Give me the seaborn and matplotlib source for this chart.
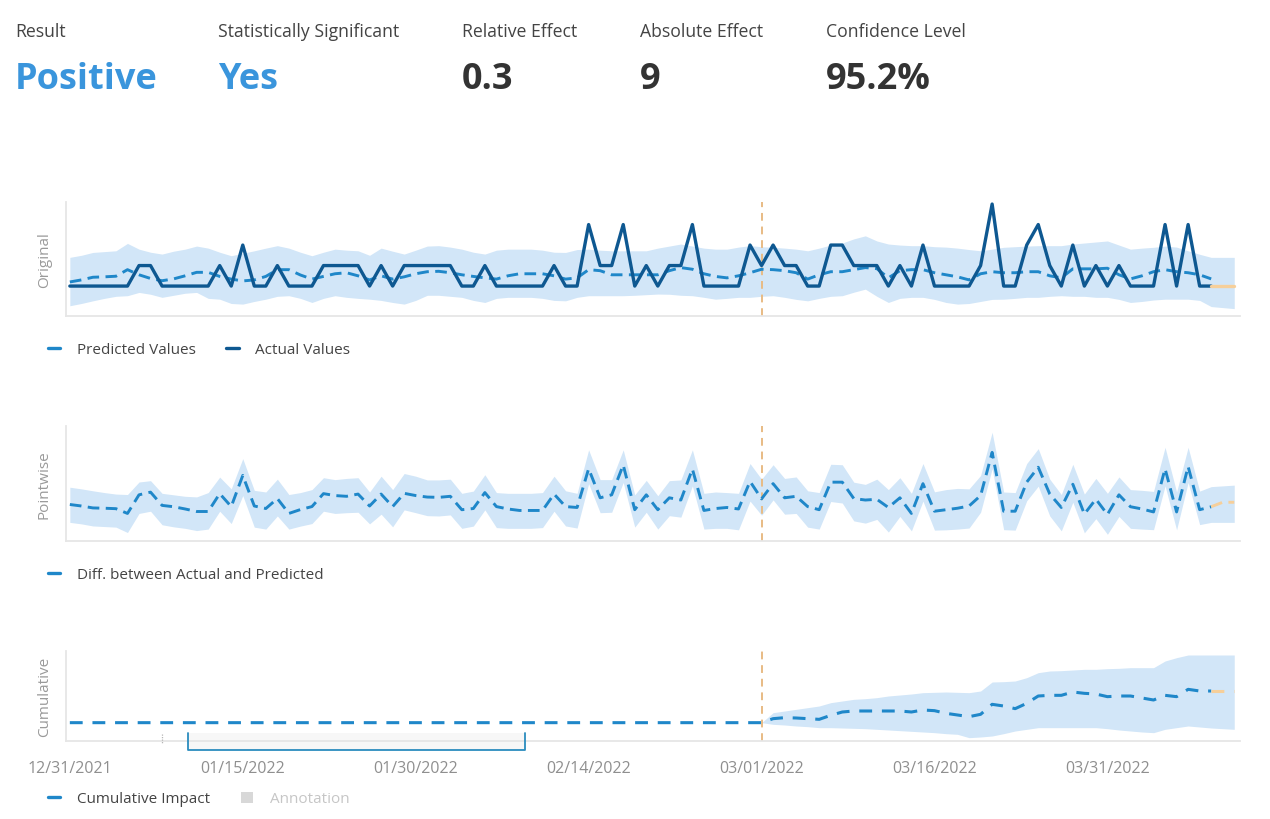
import pandas as pd
import numpy as np
import matplotlib
matplotlib.use("Agg")
import matplotlib.pyplot as plt
import matplotlib.dates as mdates
import matplotlib.transforms as mtransforms
from matplotlib.lines import Line2D
from matplotlib.patches import Patch, Rectangle
import seaborn as sns

sns.set_style("white")
plt.rcParams["font.family"] = ["Open Sans", "DejaVu Sans"]

# ---- data ----
start = "2021-12-31"
intervention = pd.Timestamp("2022-03-01")
n_full = 100  # last day with complete data (later days are the faded tail)

summary_labels = ["Result", "Statistically Significant", "Relative Effect", "Absolute Effect", "Confidence Level"]
summary_values = ["Positive", "Yes", "0.3", "9", "95.2%"]

actual = [0, 0, 0, 0, 0, 0, 1, 1, 0, 0,
          0, 0, 0, 1, 0, 2, 0, 0, 1, 0,
          0, 0, 1, 1, 1, 1, 0, 1, 0, 1,
          1, 1, 1, 1, 0, 0, 1, 0, 0, 0,
          0, 0, 1, 0, 0, 3, 1, 1, 3, 0,
          1, 0, 1, 1, 3, 0, 0, 0, 0, 2,
          1, 2, 1, 1, 0, 0, 2, 2, 1, 1,
          1, 0, 1, 0, 2, 0, 0, 0, 0, 1,
          4, 0, 0, 2, 3, 1, 0, 2, 0, 1,
          0, 1, 0, 0, 0, 3, 0, 3, 0, 0,
          0, 0]

predicted = [0.2, 0.3, 0.43, 0.45, 0.48, 0.8, 0.55, 0.37, 0.26, 0.35,
             0.5, 0.67, 0.67, 0.47, 0.34, 0.25, 0.3, 0.47, 0.8, 0.8,
             0.54, 0.34, 0.47, 0.6, 0.65, 0.5, 0.3, 0.5, 0.34, 0.45,
             0.6, 0.7, 0.72, 0.65, 0.55, 0.47, 0.4, 0.34, 0.5, 0.6,
             0.6, 0.6, 0.5, 0.34, 0.4, 0.8, 0.75, 0.55, 0.55, 0.55,
             0.55, 0.55, 0.75, 0.9, 0.82, 0.6, 0.47, 0.4, 0.5, 0.65,
             0.82, 0.8, 0.75, 0.65, 0.34, 0.55, 0.7, 0.7, 0.8, 0.9,
             0.85, 0.4, 0.75, 0.8, 0.8, 0.65, 0.55, 0.45, 0.3, 0.6,
             0.7, 0.65, 0.65, 0.7, 0.7, 0.5, 0.4, 0.84, 0.84, 0.84,
             0.87, 0.55, 0.35, 0.5, 0.7, 0.8, 0.7, 0.65, 0.55, 0.35,
             0.05, 0.05]

pred_upper = [1.40, 1.5, 1.64, 1.68, 1.72, 2.08, 1.8, 1.65, 1.56, 1.7,
              1.8, 1.95, 1.85, 1.65, 1.48, 1.6, 1.72, 1.85, 1.97, 1.85,
              1.65, 1.48, 1.65, 1.8, 1.75, 1.72, 1.5, 1.85, 1.7, 1.56,
              1.75, 1.95, 1.97, 1.9, 1.8, 1.65, 1.56, 1.75, 1.8, 1.8,
              1.8, 1.75, 1.65, 1.64, 1.78, 1.8, 1.75, 1.72, 1.72, 1.72,
              1.72, 1.85, 1.95, 2.05, 1.95, 1.85, 1.8, 1.8, 1.9, 1.97,
              1.92, 1.89, 1.85, 1.8, 1.72, 1.85, 2.0, 2.1, 2.3, 2.45,
              2.2, 2.05, 2.0, 1.97, 1.97, 1.92, 1.9, 1.85, 1.78, 1.72,
              1.8, 1.89, 1.92, 1.95, 1.97, 1.97, 1.97, 2.05, 2.1, 2.15,
              2.2, 2.0, 1.8, 1.85, 1.89, 1.95, 1.9, 1.72, 1.55, 1.4,
              1.4, 1.4]

pred_lower = [-0.96, -0.85, -0.72, -0.6, -0.5, -0.47, -0.31, -0.4, -0.55, -0.45,
              -0.35, -0.31, -0.6, -0.64, -0.85, -0.88, -0.75, -0.64, -0.5, -0.47,
              -0.6, -0.8, -0.6, -0.47, -0.55, -0.6, -0.64, -0.7, -0.8, -0.88,
              -0.7, -0.45, -0.45, -0.5, -0.55, -0.7, -0.8, -0.6, -0.55, -0.55,
              -0.55, -0.6, -0.7, -0.72, -0.55, -0.47, -0.47, -0.47, -0.47, -0.45,
              -0.42, -0.39, -0.4, -0.45, -0.47, -0.55, -0.64, -0.6, -0.55, -0.55,
              -0.5, -0.47, -0.55, -0.65, -0.72, -0.6, -0.5, -0.47, -0.3, -0.15,
              -0.5, -0.8, -0.6, -0.55, -0.55, -0.65, -0.8, -0.88, -0.85, -0.75,
              -0.65, -0.64, -0.6, -0.55, -0.55, -0.5, -0.47, -0.5, -0.5, -0.55,
              -0.55, -0.65, -0.8, -0.75, -0.68, -0.64, -0.64, -0.64, -0.7, -1.0,
              -1.05, -1.1]

# cumulative impact from the intervention day (03/01) on; zero before it
cum_post = [0, 1.2, 1.5, 1.4, 1.2, 1.0, 2.2, 3.2, 3.5, 3.5,
            3.5, 3.5, 3.5, 3.2, 3.8, 3.6, 2.8, 2.3, 1.8, 2.5,
            5.5, 5.0, 4.2, 5.8, 8.0, 8.2, 8.2, 9.2, 8.8, 8.6,
            7.8, 8.0, 8.0, 7.4, 6.8, 8.2, 7.8, 10.0, 9.5, 9.5,
            9.5, 9.5]
cum_upper_post = [0, 3.0, 3.5, 4.0, 4.5, 5.0, 6.0, 6.5, 7.0, 7.2,
                  7.5, 8.0, 8.3, 8.6, 9.0, 9.1, 9.2, 9.1, 9.0, 9.5,
                  12.2, 12.3, 12.5, 13.5, 15.0, 15.5, 15.6, 15.8, 16.0, 16.0,
                  16.2, 16.3, 16.5, 16.5, 16.5, 18.5, 19.5, 20.3, 20.3, 20.3,
                  20.3, 20.3]
cum_lower_post = [0, -0.5, -0.7, -1.0, -1.2, -1.5, -1.5, -1.6, -1.7, -1.8,
                  -2.0, -2.2, -2.4, -2.6, -2.8, -3.0, -3.3, -3.5, -4.5, -4.3,
                  -4.0, -3.3, -2.5, -2.0, -1.5, -1.5, -1.5, -1.5, -1.5, -1.5,
                  -1.8, -2.2, -2.5, -2.8, -3.0, -2.0, -1.5, -1.0, -1.3, -1.6,
                  -1.8, -2.0]

annotation_span = ["2022-01-10 05:00", "2022-02-08 12:00"]
annotation_mark = "2022-01-08"

# ---- build frame ----
dates = pd.date_range(start, periods=len(actual), freq="D")
df = pd.DataFrame({"date": dates, "actual": actual, "predicted": predicted,
                   "upper": pred_upper, "lower": pred_lower})
df["pointwise"] = df["actual"] - df["predicted"]
df["pw_upper"] = df["actual"] - df["lower"]
df["pw_lower"] = df["actual"] - df["upper"]
n_pre = (df["date"] < intervention).sum()
df["cumulative"] = [0.0] * n_pre + cum_post
df["cum_upper"] = [0.0] * n_pre + cum_upper_post
df["cum_lower"] = [0.0] * n_pre + cum_lower_post

full = df.iloc[:n_full]
tail = df.iloc[n_full - 1:]

c_band = "#d2e6f8"
c_pred = "#1f87c9"
c_act = "#0e5891"
c_tail = "#f6cf9a"
c_vline = "#e8bb84"

fig = plt.figure(figsize=(12.7, 8.2), dpi=100)
W, H = 1270, 820
left, width = 66 / W, (1240 - 66) / W
ax1 = fig.add_axes([left, 1 - 317 / H, width, 114 / H])
ax2 = fig.add_axes([left, 1 - 542 / H, width, 115 / H])
ax3 = fig.add_axes([left, 1 - 742 / H, width, 90 / H])

dash_a = (0, (4, 2.2))
dash_c = (0, (4.2, 3.2))

# Original
ax1.fill_between(df["date"], df["lower"], df["upper"], color=c_band, lw=0, zorder=1)
sns.lineplot(data=full, x="date", y="predicted", ax=ax1, color=c_pred, lw=2.1,
             linestyle=dash_a, estimator=None, legend=False, zorder=3)
sns.lineplot(data=full, x="date", y="actual", ax=ax1, color=c_act, lw=2.4,
             estimator=None, legend=False, zorder=4)
sns.lineplot(data=tail, x="date", y="actual", ax=ax1, color=c_tail, lw=2.4,
             estimator=None, legend=False, zorder=4)

# Pointwise
ax2.fill_between(df["date"], df["pw_lower"], df["pw_upper"], color=c_band, lw=0, zorder=1)
sns.lineplot(data=full, x="date", y="pointwise", ax=ax2, color=c_pred, lw=2.1,
             linestyle=dash_a, estimator=None, legend=False, zorder=3)
sns.lineplot(data=tail, x="date", y="pointwise", ax=ax2, color=c_tail, lw=2.1,
             linestyle=dash_a, estimator=None, legend=False, zorder=3)

# Cumulative
ax3.fill_between(df["date"], df["cum_lower"], df["cum_upper"], color=c_band, lw=0, zorder=1)
sns.lineplot(data=full, x="date", y="cumulative", ax=ax3, color=c_pred, lw=2.2,
             linestyle=dash_c, estimator=None, legend=False, zorder=3)
sns.lineplot(data=tail, x="date", y="cumulative", ax=ax3, color=c_tail, lw=2.2,
             linestyle=dash_c, estimator=None, legend=False, zorder=3)

tick_dates = pd.date_range(start, periods=7, freq="15D")
x_lo = pd.Timestamp(start) - pd.Timedelta(hours=8)
x_hi = pd.Timestamp(start) + pd.Timedelta(days=101.5)

for ax, name, ylim in [(ax1, "Original", (-1.46, 4.1)),
                       (ax2, "Pointwise", (-2.65, 5.07)),
                       (ax3, "Cumulative", (-5.5, 21.5))]:
    ax.set_xlim(x_lo, x_hi)
    ax.set_ylim(*ylim)
    ax.set_xticks(tick_dates)
    ax.xaxis.set_major_formatter(mdates.DateFormatter("%m/%d/%Y"))
    ax.set_yticks([0])
    ax.set_yticklabels([])
    ax.tick_params(axis="x", direction="out", length=7, width=1, color="#e2e2e2",
                   labelsize=11.5, labelcolor="#8f8f8f", pad=7)
    ax.tick_params(axis="y", direction="out", length=5, width=1, color="#e2e2e2")
    for s in ["top", "right"]:
        ax.spines[s].set_visible(False)
    for s in ["left", "bottom"]:
        ax.spines[s].set_color("#e6e6e6")
        ax.spines[s].set_linewidth(1.3)
    ax.set_xlabel("")
    ax.set_ylabel(name, color="#9a9a9a", fontsize=11)
    ax.yaxis.set_label_coords(-0.012, 0.5)
    ax.axvline(intervention, color=c_vline, ls=(0, (4, 3)), lw=1.4, zorder=2)

ax1.tick_params(labelbottom=False)
ax2.tick_params(labelbottom=False)

# annotation bracket under the cumulative panel
trans = mtransforms.blended_transform_factory(ax3.transData, ax3.transAxes)
a0 = mdates.date2num(pd.Timestamp(annotation_span[0]))
a1 = mdates.date2num(pd.Timestamp(annotation_span[1]))
ax3.add_patch(Rectangle((a0, -0.1), a1 - a0, 0.19, transform=trans, facecolor="#f7f7f7",
                        edgecolor="none", clip_on=False, zorder=0))
ax3.plot([a0, a0, a1, a1], [0.089, -0.1, -0.1, 0.089], transform=trans,
         color="#2b8cbe", lw=1.3, clip_on=False, zorder=5)
am = mdates.date2num(pd.Timestamp(annotation_mark))
ax3.plot([am, am], [0.08, -0.03], transform=trans, color="#b5b5b5", lw=0.9,
         ls=(0, (1, 1)), clip_on=False, zorder=5)

# legends
leg_kw = dict(loc="center left", frameon=False, fontsize=11, labelcolor="#444444",
              handlelength=0.8, handletextpad=1.1, columnspacing=2.0,
              borderpad=0, borderaxespad=0)
fig.legend(handles=[Line2D([], [], color=c_pred, lw=2.4), Line2D([], [], color=c_act, lw=2.4)],
           labels=["Predicted Values", "Actual Values"], ncol=2,
           bbox_to_anchor=(48 / W, 1 - 351 / H), **leg_kw)
fig.legend(handles=[Line2D([], [], color=c_pred, lw=2.4)],
           labels=["Diff. between Actual and Predicted"],
           bbox_to_anchor=(48 / W, 1 - 576 / H), **leg_kw)
leg3 = fig.legend(handles=[Line2D([], [], color=c_pred, lw=2.4),
                           Patch(facecolor="#d8d8d8", edgecolor="none")],
                  labels=["Cumulative Impact", "Annotation"], ncol=2,
                  bbox_to_anchor=(48 / W, 1 - 800 / H), **leg_kw)
leg3.get_texts()[1].set_color("#c6c6c6")

# summary header
header_x = [15, 218, 462, 640, 826]
value_colors = ["#3a95dc", "#3a95dc", "#333333", "#333333", "#333333"]
for x, lab, val, col in zip(header_x, summary_labels, summary_values, value_colors):
    fig.text(x / W, 1 - 37 / H, lab, fontsize=12.7, color="#444444", va="baseline")
    fig.text(x / W, 1 - 89 / H, val, fontsize=26, fontweight="bold", color=col, va="baseline")

fig.savefig("out.png", dpi=100)
